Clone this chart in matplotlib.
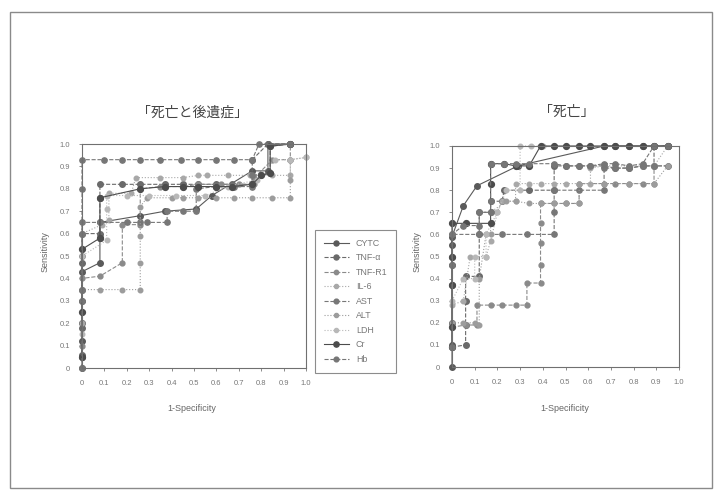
import matplotlib
matplotlib.use("Agg")
import matplotlib.pyplot as plt
from matplotlib.patches import Rectangle
from matplotlib.ticker import FuncFormatter

plt.rcParams['font.family'] = ['Liberation Sans', 'Noto Sans CJK JP', 'DejaVu Sans']

labels = ['CYTC', 'TNF-α', 'TNF-R1', 'IL-6', 'AST', 'ALT', 'LDH', 'Cr', 'Hb']

# left panel: death and sequelae  (1-specificity, sensitivity)
left_x = {
    'CYTC':   [0, 0, 0, 0, 0, 0, 0.08, 0.08, 0.08, 0.26, 0.37, 0.51, 0.58, 0.76, 0.83, 0.83, 0.93],
    'TNF-α':  [0, 0, 0, 0, 0, 0.08, 0.08, 0.08, 0.18, 0.26, 0.37, 0.45, 0.52, 0.6, 0.67, 0.76, 0.76, 0.83, 0.93],
    'TNF-R1': [0, 0, 0.08, 0.18, 0.18, 0.26, 0.26, 0.35, 0.45, 0.52, 0.62, 0.7, 0.77, 0.77, 0.85, 0.93, 0.93],
    'IL-6':   [0, 0, 0.09, 0.12, 0.12, 0.22, 0.24, 0.35, 0.45, 0.52, 0.56, 0.65, 0.75, 0.8, 0.85, 0.93, 0.93, 1.0],
    'AST':    [0, 0, 0, 0.08, 0.2, 0.26, 0.29, 0.38, 0.38, 0.45, 0.51, 0.51, 0.6, 0.68, 0.76, 0.76, 0.84, 0.84, 0.93],
    'ALT':    [0, 0.08, 0.18, 0.26, 0.26, 0.26, 0.26, 0.29, 0.4, 0.45, 0.52, 0.6, 0.68, 0.76, 0.85, 0.93, 0.93, 0.93],
    'LDH':    [0, 0, 0.11, 0.11, 0.11, 0.2, 0.3, 0.42, 0.55, 0.65, 0.78, 0.86, 0.93, 1.0],
    'Cr':     [0, 0, 0, 0.08, 0.08, 0.26, 0.37, 0.45, 0.52, 0.6, 0.67, 0.76, 0.8, 0.84, 0.84, 0.93],
    'Hb':     [0, 0, 0, 0, 0, 0.1, 0.18, 0.26, 0.35, 0.44, 0.52, 0.6, 0.68, 0.76, 0.79, 0.93],
}
left_y = {
    'CYTC':   [0, 0.05, 0.12, 0.2, 0.3, 0.43, 0.47, 0.58, 0.65, 0.68, 0.7, 0.71, 0.77, 0.88, 0.88, 1.0, 1.0],
    'TNF-α':  [0.06, 0.18, 0.35, 0.47, 0.6, 0.6, 0.76, 0.82, 0.82, 0.82, 0.82, 0.82, 0.82, 0.82, 0.82, 0.82, 0.93, 1.0, 1.0],
    'TNF-R1': [0.1, 0.4, 0.41, 0.47, 0.64, 0.64, 0.8, 0.81, 0.81, 0.82, 0.82, 0.82, 0.82, 0.85, 0.93, 0.93, 1.0],
    'IL-6':   [0.2, 0.6, 0.64, 0.66, 0.78, 0.78, 0.85, 0.85, 0.85, 0.86, 0.86, 0.86, 0.86, 0.86, 0.86, 0.86, 0.93, 0.94],
    'AST':    [0.3, 0.5, 0.65, 0.65, 0.65, 0.65, 0.65, 0.65, 0.7, 0.7, 0.7, 0.8, 0.81, 0.81, 0.81, 0.86, 0.87, 0.99, 1.0],
    'ALT':    [0.35, 0.35, 0.35, 0.35, 0.47, 0.59, 0.72, 0.76, 0.76, 0.76, 0.76, 0.76, 0.76, 0.76, 0.76, 0.76, 0.84, 0.93],
    'LDH':    [0.15, 0.5, 0.57, 0.71, 0.77, 0.77, 0.77, 0.77, 0.77, 0.81, 0.84, 0.93, 0.93, 0.94],
    'Cr':     [0.05, 0.25, 0.53, 0.58, 0.76, 0.8, 0.81, 0.81, 0.81, 0.81, 0.81, 0.82, 0.86, 0.87, 0.99, 1.0],
    'Hb':     [0, 0.35, 0.6, 0.8, 0.93, 0.93, 0.93, 0.93, 0.93, 0.93, 0.93, 0.93, 0.93, 0.93, 1.0, 1.0],
}

# right panel: death
right_x = {
    'CYTC':   [0, 0, 0, 0, 0, 0, 0, 0.05, 0.11, 0.29, 0.67, 0.72, 0.78, 0.84, 0.89, 0.95],
    'TNF-α':  [0, 0.06, 0.06, 0.06, 0.06, 0.12, 0.12, 0.12, 0.17, 0.17, 0.22, 0.23, 0.34, 0.45, 0.45, 0.5, 0.56, 0.61, 0.67, 0.72, 0.78, 0.84, 0.89, 0.89, 0.95],
    'TNF-R1': [0, 0.06, 0.11, 0.11, 0.17, 0.22, 0.28, 0.33, 0.33, 0.39, 0.39, 0.39, 0.39, 0.39, 0.45, 0.5, 0.56, 0.56, 0.67, 0.72, 0.78, 0.84, 0.89, 0.89, 0.95],
    'IL-6':   [0, 0.05, 0.08, 0.15, 0.17, 0.2, 0.22, 0.28, 0.28, 0.34, 0.39, 0.45, 0.5, 0.56, 0.61, 0.61, 0.67, 0.72, 0.78, 0.84, 0.89, 0.95],
    'AST':    [0, 0, 0.12, 0.22, 0.33, 0.45, 0.45, 0.45, 0.56, 0.67, 0.67, 0.72, 0.78, 0.84, 0.89, 0.95],
    'ALT':    [0, 0.05, 0.1, 0.12, 0.12, 0.15, 0.17, 0.17, 0.24, 0.28, 0.34, 0.39, 0.45, 0.5, 0.56, 0.56, 0.67, 0.78, 0.89, 0.95],
    'LDH':    [0, 0.05, 0.1, 0.1, 0.15, 0.15, 0.2, 0.24, 0.3, 0.3, 0.35, 0.4],
    'Cr':     [0, 0, 0, 0, 0, 0.06, 0.17, 0.17, 0.17, 0.23, 0.28, 0.34, 0.39, 0.45, 0.5, 0.56, 0.61, 0.67, 0.72, 0.78, 0.84, 0.89, 0.95],
    'Hb':     [0, 0, 0, 0.05, 0.12, 0.12, 0.17, 0.17, 0.17, 0.23, 0.28, 0.34, 0.45, 0.5, 0.56, 0.61, 0.67, 0.72, 0.78, 0.84, 0.89, 0.95],
}
right_y = {
    'CYTC':   [0, 0.1, 0.2, 0.37, 0.46, 0.55, 0.59, 0.73, 0.82, 0.91, 1.0, 1.0, 1.0, 1.0, 1.0, 1.0],
    'TNF-α':  [0.09, 0.1, 0.19, 0.3, 0.41, 0.41, 0.6, 0.7, 0.7, 0.75, 0.75, 0.8, 0.8, 0.8, 0.91, 0.91, 0.91, 0.91, 0.91, 0.9, 0.9, 0.91, 0.91, 1.0, 1.0],
    'TNF-R1': [0.18, 0.19, 0.19, 0.28, 0.28, 0.28, 0.28, 0.28, 0.38, 0.38, 0.46, 0.56, 0.65, 0.74, 0.74, 0.74, 0.74, 0.83, 0.83, 0.83, 0.83, 0.83, 0.83, 0.91, 0.91],
    'IL-6':   [0.28, 0.3, 0.5, 0.5, 0.57, 0.7, 0.75, 0.75, 0.83, 0.83, 0.83, 0.83, 0.83, 0.83, 0.83, 0.9, 0.91, 0.91, 0.91, 0.91, 0.91, 1.0],
    'AST':    [0.5, 0.6, 0.6, 0.6, 0.6, 0.6, 0.7, 0.8, 0.8, 0.8, 0.9, 0.9, 0.9, 0.91, 0.91, 0.91],
    'ALT':    [0.2, 0.2, 0.2, 0.19, 0.4, 0.6, 0.6, 0.7, 0.75, 0.75, 0.74, 0.74, 0.74, 0.74, 0.74, 0.83, 0.83, 0.83, 0.83, 0.91],
    'LDH':    [0.3, 0.4, 0.4, 0.5, 0.5, 0.6, 0.7, 0.8, 0.8, 1.0, 1.0, 1.0],
    'Cr':     [0.09, 0.18, 0.37, 0.5, 0.65, 0.65, 0.65, 0.83, 0.92, 0.92, 0.91, 0.91, 1.0, 1.0, 1.0, 1.0, 1.0, 1.0, 1.0, 1.0, 1.0, 1.0, 1.0],
    'Hb':     [0.09, 0.46, 0.6, 0.64, 0.64, 0.7, 0.7, 0.75, 0.92, 0.92, 0.92, 0.92, 0.92, 0.91, 0.91, 0.91, 0.92, 0.92, 0.91, 0.92, 1.0, 1.0],
}

ticks = [0, 0.1, 0.2, 0.3, 0.4, 0.5, 0.6, 0.7, 0.8, 0.9, 1.0]

# grey-scale styles as in the scanned print
styles = {
    'CYTC':   ('#5a5a5a', '-', 4.0),
    'TNF-α':  ('#6a6a6a', '--', 4.0),
    'TNF-R1': ('#8a8a8a', '--', 3.5),
    'IL-6':   ('#a8a8a8', ':', 3.3),
    'AST':    ('#777777', '--', 3.8),
    'ALT':    ('#9c9c9c', ':', 3.3),
    'LDH':    ('#b8b8b8', ':', 3.3),
    'Cr':     ('#4c4c4c', '-', 4.2),
    'Hb':     ('#767676', '--', 3.8),
}

fig = plt.figure(figsize=(7.2, 4.94), dpi=100)
fig.patch.set_facecolor('white')

# page frame
fig.patches.append(Rectangle((10 / 720, 1 - 488 / 494), 702 / 720, 476 / 494,
                             transform=fig.transFigure, fill=False,
                             edgecolor='#8a8a8a', linewidth=1.0))

ax1 = fig.add_axes([82 / 720, 1 - 368 / 494, 224 / 720, 224 / 494])
ax2 = fig.add_axes([452 / 720, 1 - 367 / 494, 227 / 720, 221 / 494])

fmt = FuncFormatter(lambda v, p: '0' if abs(v) < 1e-9 else f'{v:.1f}')

for ax, xs, ys in [(ax1, left_x, left_y), (ax2, right_x, right_y)]:
    for lab in labels:
        c, ls, ms = styles[lab]
        ax.plot(xs[lab], ys[lab], color=c, linestyle=ls, linewidth=0.8,
                marker='o', markersize=ms, markerfacecolor=c,
                markeredgecolor=c, label=lab, clip_on=False)
    ax.set_xlim(0, 1.0)
    ax.set_ylim(0, 1.0)
    ax.set_xticks(ticks)
    ax.set_yticks(ticks)
    ax.xaxis.set_major_formatter(fmt)
    ax.yaxis.set_major_formatter(fmt)
    ax.tick_params(labelsize=5.5, colors='#777777', length=2.5, width=0.6, pad=6)
    for s in ax.spines.values():
        s.set_color('#707070')
        s.set_linewidth(0.8)

fig.text(193 / 720, 1 - 113 / 494, '「死亡と後遺症」', ha='center', va='center',
         fontsize=10, color='#444444', family=['Noto Sans CJK JP', 'DejaVu Sans'])
fig.text(567 / 720, 1 - 112 / 494, '「死亡」', ha='center', va='center',
         fontsize=10, color='#444444', family=['Noto Sans CJK JP', 'DejaVu Sans'])

for xc in (192, 565):
    fig.text(xc / 720, 1 - 408 / 494, '1-Specificity', ha='center', va='center',
             fontsize=6.5, color='#666666')
for xc in (45, 417):
    fig.text(xc / 720, 1 - 252 / 494, 'Sensitivity', ha='center', va='center',
             rotation=90, fontsize=6.5, color='#666666')

handles, labs = ax1.get_legend_handles_labels()
leg = fig.legend(handles, labs, loc='upper left',
                 bbox_to_anchor=(315 / 720, 1 - 230 / 494), borderaxespad=0,
                 fontsize=6.4, frameon=True, fancybox=False,
                 edgecolor='#707070', handlelength=2.8, handletextpad=0.8,
                 labelspacing=0.62, borderpad=1.0, markerscale=0.9)
leg.get_frame().set_linewidth(0.8)
for t in leg.get_texts():
    t.set_color('#777777')

fig.savefig('out.png', dpi=100, facecolor='white')
